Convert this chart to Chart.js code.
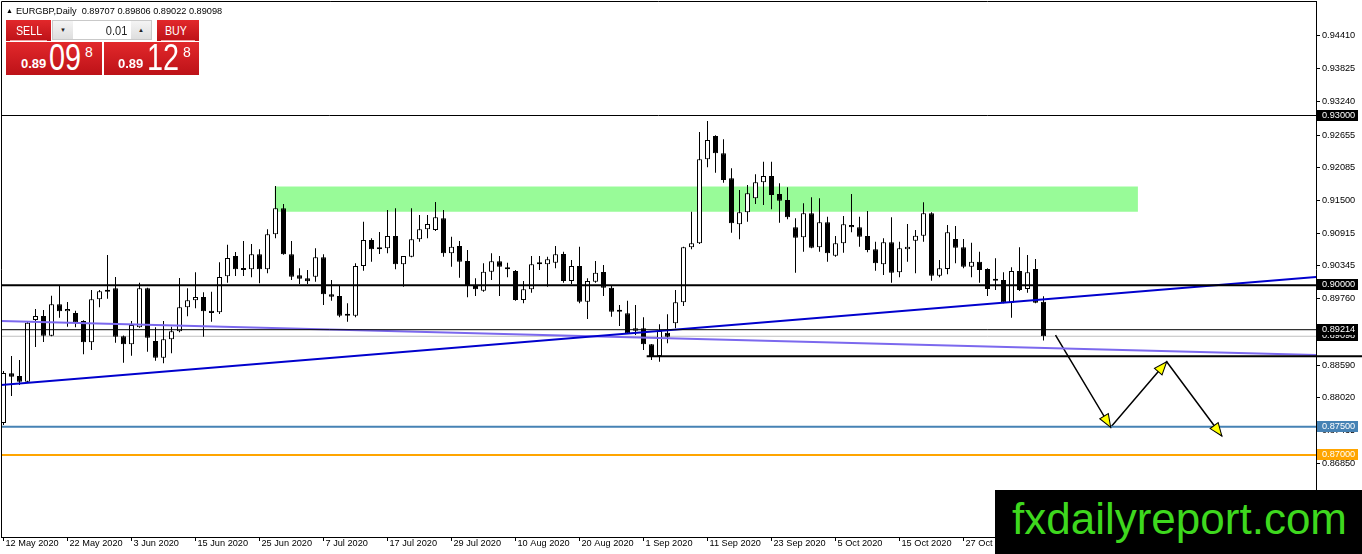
<!DOCTYPE html>
<html>
<head>
<meta charset="utf-8">
<title>EURGBP Daily</title>
<script src="https://cdn.jsdelivr.net/npm/chart.js@4.4.0/dist/chart.umd.min.js"></script>
<style>
html, body { margin: 0; padding: 0; background: #fff; overflow: hidden; }
#wrap { position: relative; width: 1362px; height: 554px; font-family: "Liberation Sans", Arial, sans-serif; }
#c { position: absolute; left: 0; top: 0; display: block; }
.hdr { position: absolute; left: 6px; top: 5px; font-size: 9.2px; color: #000; white-space: pre; line-height: 11px; }
.hdr .tri { font-size: 7px; margin-right: 3px; vertical-align: 1px; }
.red { position: absolute; background: linear-gradient(#e2282b, #bd1218); color: #fff; overflow: hidden; }
.btn { top: 20px; height: 21px; }
.btn .sep { position: absolute; left: 4px; right: 4px; bottom: 0; height: 1px; background: #f2a0a0; }
.btn .t { position: absolute; top: 4px; font-size: 13px; line-height: 13px; transform: scaleX(0.82); transform-origin: left top; }
.spin { position: absolute; left: 52px; top: 20px; width: 98px; height: 18px; background: #fff; border: 1px solid #c9c9c9; }
.spin .b { position: absolute; top: 0; width: 20px; height: 18px; background: linear-gradient(#f4f4f4, #dedede); font-size: 6px; line-height: 18px; text-align: center; color: #222; }
.spin .v { position: absolute; right: 24px; top: 3px; font-size: 13px; line-height: 13px; color: #222; transform: scaleX(0.85); transform-origin: right top; }
.px { top: 42px; height: 33px; }
.px span { position: absolute; white-space: pre; }
.px .s { top: 15px; font-size: 13px; line-height: 13px; font-weight: bold; }
.px .big { top: -2px; font-size: 36px; line-height: 36px; transform: scaleX(0.8); transform-origin: left top; }
.px .sup { top: 3px; font-size: 14px; line-height: 14px; }
.brand { position: absolute; left: 995px; top: 490px; width: 367px; height: 64px; background: #000; }
.brand span { position: absolute; left: 17px; top: 7px; font-size: 44px; line-height: 44px; color: #3ed81e; white-space: pre; }
</style>
</head>
<body>
<div id="wrap">
  <canvas id="c" width="1362" height="554"></canvas>
  <div class="hdr" id="hdr"></div>
  <div class="red btn" style="left:6px;width:45px"><span class="t" style="left:10px">SELL</span><div class="sep"></div></div>
  <div class="spin"><div class="b" style="left:0">&#9660;</div><span class="v">0.01</span><div class="b" style="right:0">&#9650;</div></div>
  <div class="red btn" style="left:157px;width:42px"><span class="t" style="left:8px">BUY</span><div class="sep"></div></div>
  <div class="red px" style="left:6px;width:96px"><span class="s" style="left:15px">0.89</span><span class="big" style="left:43px">09</span><span class="sup" style="left:79px">8</span></div>
  <div class="red px" style="left:104px;width:95px"><span class="s" style="left:14px">0.89</span><span class="big" style="left:43px">12</span><span class="sup" style="left:79px">8</span></div>
  <div class="brand"><span>fxdailyreport.com</span></div>
</div>
<script>
// EURGBP daily, 12 May 2020 .. 10 Nov 2020, one value per trading day
var opens = [0.87565,0.88443,0.88396,0.88295,0.89385,0.89456,0.89108,0.89663,0.89539,0.89509,
  0.89368,0.88991,0.89751,0.89916,0.89946,0.89097,0.88956,0.89256,0.89946,0.89014,
  0.88719,0.89044,0.89186,0.89610,0.89734,0.89792,0.89550,0.89521,0.90158,0.90517,
  0.90281,0.90281,0.90547,0.90281,0.90900,0.91360,0.90547,0.90175,0.90122,0.90151,
  0.90494,0.89840,0.89810,0.89491,0.89461,0.90340,0.90799,0.90635,0.90653,0.90870,
  0.90370,0.90504,0.90812,0.90988,0.90976,0.91183,0.90564,0.90693,0.90428,0.89986,
  0.89903,0.90239,0.90423,0.90317,0.90251,0.89739,0.89928,0.90370,0.90370,0.90398,
  0.90552,0.90075,0.90340,0.89709,0.90062,0.90234,0.89956,0.89532,0.89504,0.89196,
  0.89239,0.88956,0.88749,0.89161,0.89327,0.89698,0.90670,0.90741,0.92226,0.92637,
  0.92332,0.91890,0.91077,0.91289,0.91536,0.91819,0.91930,0.91612,0.91506,0.91024,
  0.90847,0.91271,0.90670,0.91112,0.90522,0.90741,0.91064,0.91024,0.90870,0.90635,
  0.90370,0.90759,0.90228,0.90635,0.90787,0.90875,0.91271,0.90168,0.90287,0.90817,
  0.90670,0.90327,0.90416,0.90287,0.90080,0.90092,0.89691,0.90251,0.89933,0.90287,
  0.89707];
var highs = [0.88484,0.88749,0.88678,0.89368,0.89580,0.89562,0.89815,0.90004,0.89704,0.89550,
  0.89380,0.89916,0.89916,0.90534,0.90145,0.89110,0.89368,0.90045,0.89955,0.89256,
  0.89368,0.89267,0.90128,0.89946,0.90228,0.89875,0.89886,0.90405,0.90716,0.90587,
  0.90782,0.90729,0.90635,0.90988,0.91754,0.91436,0.90782,0.90299,0.90269,0.90653,
  0.90547,0.90092,0.90004,0.89681,0.90387,0.91123,0.90829,0.90941,0.91330,0.91360,
  0.90517,0.91360,0.91241,0.91241,0.91471,0.91330,0.90858,0.90782,0.90622,0.90122,
  0.90387,0.90564,0.90517,0.90398,0.90269,0.90075,0.90517,0.90517,0.90504,0.90693,
  0.90592,0.90446,0.90681,0.90122,0.90428,0.90357,0.89986,0.89650,0.89726,0.89650,
  0.89433,0.88960,0.89309,0.89486,0.89916,0.90680,0.91299,0.92708,0.92902,0.92650,
  0.92579,0.92066,0.91683,0.91771,0.91960,0.92183,0.92183,0.91801,0.91731,0.91183,
  0.91448,0.91554,0.91536,0.91211,0.90870,0.91223,0.91612,0.91211,0.91312,0.90769,
  0.90829,0.91200,0.90769,0.91082,0.90976,0.91466,0.91289,0.90446,0.91064,0.91047,
  0.90817,0.90752,0.90592,0.90299,0.90476,0.90228,0.90317,0.90670,0.90534,0.90463,
  0.89806];
var lows = [0.87530,0.88042,0.88237,0.88272,0.88908,0.88997,0.89100,0.89426,0.89267,0.89256,
  0.88779,0.88855,0.89610,0.89762,0.88984,0.88631,0.88754,0.89250,0.88825,0.88666,
  0.88620,0.88797,0.89168,0.89451,0.89592,0.89090,0.89355,0.89491,0.90045,0.90163,
  0.90163,0.90140,0.90034,0.90211,0.90829,0.90540,0.90092,0.90022,0.90022,0.90062,
  0.89650,0.89726,0.89433,0.89355,0.89433,0.90257,0.90416,0.90552,0.90564,0.90281,
  0.89974,0.90494,0.90769,0.90829,0.90960,0.90504,0.90327,0.90133,0.89786,0.89810,
  0.89886,0.90092,0.89810,0.90140,0.89726,0.89681,0.89868,0.90269,0.89974,0.90299,
  0.90045,0.90022,0.89681,0.89403,0.90045,0.89810,0.89444,0.89279,0.89138,0.89120,
  0.88855,0.88678,0.88648,0.88974,0.89239,0.89633,0.90635,0.90730,0.92084,0.91989,
  0.91812,0.90928,0.90812,0.91123,0.91436,0.91418,0.91342,0.91105,0.91165,0.90221,
  0.90592,0.90653,0.90592,0.90416,0.90504,0.90575,0.90935,0.90681,0.90582,0.90257,
  0.90181,0.90045,0.90140,0.90416,0.90211,0.90769,0.90080,0.90140,0.90193,0.90387,
  0.90299,0.90140,0.90045,0.89810,0.89916,0.89681,0.89426,0.89898,0.89868,0.89681,
  0.89022];
var closes = [0.88449,0.88383,0.88295,0.89338,0.89456,0.89108,0.89663,0.89539,0.89580,0.89338,
  0.88991,0.89751,0.89893,0.89886,0.89090,0.88956,0.89297,0.89946,0.89073,0.88719,
  0.89044,0.89186,0.89610,0.89734,0.89792,0.89539,0.89509,0.90145,0.90481,0.90281,
  0.90269,0.90547,0.90281,0.90900,0.91360,0.90547,0.90151,0.90115,0.90069,0.90494,
  0.89840,0.89797,0.89461,0.89461,0.90340,0.90799,0.90635,0.90640,0.90870,0.90370,
  0.90517,0.90812,0.90988,0.91082,0.91200,0.90564,0.90681,0.90416,0.89986,0.89928,
  0.90239,0.90423,0.90327,0.90281,0.89739,0.89928,0.90370,0.90378,0.90458,0.90547,
  0.90075,0.90340,0.89709,0.90075,0.90221,0.89956,0.89532,0.89540,0.89150,0.89239,
  0.88956,0.88749,0.89191,0.89090,0.89698,0.90670,0.90741,0.92226,0.92567,0.92332,
  0.91860,0.91094,0.91289,0.91625,0.91819,0.91930,0.91595,0.91494,0.91200,0.90840,
  0.91271,0.90663,0.91112,0.90564,0.90741,0.91077,0.91024,0.90858,0.90622,0.90387,
  0.90759,0.90221,0.90653,0.90681,0.90875,0.91271,0.90168,0.90299,0.90935,0.90663,
  0.90327,0.90416,0.90269,0.89933,0.90090,0.89691,0.90251,0.89916,0.90228,0.89691,
  0.89098];

// bottom axis: bar index -> date text
var tickIdx = [0, 8, 16, 24, 32, 40, 48, 56, 64, 72, 80, 88, 96, 104, 112, 120, 128];
var tickLabels = ['12 May 2020', '22 May 2020', '3 Jun 2020', '15 Jun 2020', '25 Jun 2020', '7 Jul 2020',
  '17 Jul 2020', '29 Jul 2020', '10 Aug 2020', '20 Aug 2020', '1 Sep 2020', '11 Sep 2020',
  '23 Sep 2020', '5 Oct 2020', '15 Oct 2020', '27 Oct 2020', '6 Nov 2020'];
// right axis price ticks
var priceTicks = [0.94410, 0.93825, 0.93240, 0.92655, 0.92085, 0.91500, 0.90915,
  0.90345, 0.89760, 0.89175, 0.88590, 0.88020, 0.87435, 0.86850];

// drawn objects (bar index, price)
var resistTop = 0.93000, pivot = 0.90000, lastLow = 0.89214, bidPrice = 0.89098;
var target1 = 0.87500, target2 = 0.87000;
var supportPrice = 0.88745, supportFrom = 80.4;
var blueTrendX = [-0.4, 164.1], blueTrendY = [0.88237, 0.90145];
var purpleTrendX = [-0.4, 164.1], purpleTrendY = [0.89368, 0.88767];
var zoneX = [33.9, 141.8], zoneY = [0.91299, 0.91745];
var arrowX = [131.5, 138.4, 145.4, 152.3];
var arrowY = [0.89120, 0.87489, 0.88648, 0.87335];

var n = opens.length;
document.getElementById('hdr').innerHTML = '<span class="tri">&#9650;</span>EURGBP,Daily  ' +
  [opens[n-1], highs[n-1], lows[n-1], closes[n-1]].map(function(v){ return v.toFixed(5); }).join(' ');

var bodies = [], wicks = [], bodyFill = [];
for (var i = 0; i < n; i++) {
  bodies.push({x: i, y: [opens[i], closes[i]]});
  wicks.push({x: i, y: [lows[i], highs[i]]});
  bodyFill.push(closes[i] < opens[i] ? '#000000' : '#ffffff');
}

function hline(price, from, to, color, width, order) {
  return {type: 'line', data: [{x: from, y: price}, {x: to, y: price}], borderColor: color,
    borderWidth: width, pointRadius: 0, tension: 0, order: order};
}
function seg(xs, ys, color, width) {
  return {type: 'line', data: xs.map(function(x, k){ return {x: x, y: ys[k]}; }), borderColor: color,
    borderWidth: width, pointRadius: 0, tension: 0, order: 0};
}

var frame = {
  id: 'frame',
  beforeDatasetsDraw: function(chart) {
    var ctx = chart.ctx, xs = chart.scales.x, ys = chart.scales.y;
    var x0 = xs.getPixelForValue(zoneX[0]), x1 = xs.getPixelForValue(zoneX[1]);
    var y0 = ys.getPixelForValue(zoneY[1]), y1 = ys.getPixelForValue(zoneY[0]);
    ctx.save();
    ctx.fillStyle = '#98fb98';
    ctx.fillRect(x0, y0, x1 - x0, y1 - y0);
    ctx.restore();
  },
  afterDatasetsDraw: function(chart) {
    var ctx = chart.ctx, xs = chart.scales.x, ys = chart.scales.y;
    ctx.save();
    for (var k = 1; k < arrowX.length; k++) {
      var ax = xs.getPixelForValue(arrowX[k-1]), ay = ys.getPixelForValue(arrowY[k-1]);
      var bx = xs.getPixelForValue(arrowX[k]), by = ys.getPixelForValue(arrowY[k]);
      var a = Math.atan2(by - ay, bx - ax);
      ctx.save();
      ctx.translate(bx, by);
      ctx.rotate(a);
      ctx.beginPath();
      ctx.moveTo(0, 0); ctx.lineTo(-13, -5); ctx.lineTo(-13, 5); ctx.closePath();
      ctx.fillStyle = '#ffff00'; ctx.fill();
      ctx.strokeStyle = '#000'; ctx.lineWidth = 1; ctx.stroke();
      ctx.restore();
    }
    ctx.restore();
  },
  afterDraw: function(chart) {
    var ctx = chart.ctx, a = chart.chartArea, ys = chart.scales.y;
    ctx.save();
    ctx.strokeStyle = '#000'; ctx.lineWidth = 1;
    ctx.beginPath();
    ctx.moveTo(a.left + 0.5, a.bottom); ctx.lineTo(a.left + 0.5, a.top + 0.5); ctx.lineTo(a.right, a.top + 0.5);
    ctx.stroke();
    ctx.font = '9.2px "Liberation Sans", Arial, sans-serif';
    ctx.textBaseline = 'middle'; ctx.textAlign = 'left';
    var tags = [[resistTop, '#000000'], [pivot, '#000000'], [bidPrice, '#000000'], [lastLow, '#000000'],
      [target1, '#4682b4'], [target2, '#ffa500']];
    tags.forEach(function(t) {
      var y = ys.getPixelForValue(t[0]);
      ctx.fillStyle = t[1];
      ctx.fillRect(a.right + 1, Math.round(y) - 6, 41, 11);
      ctx.fillStyle = '#fff';
      ctx.fillText(t[0].toFixed(5), a.right + 6, Math.round(y) - 0.5);
    });
    ctx.restore();
  }
};

Chart.defaults.font.family = '"Liberation Sans", Arial, sans-serif';
Chart.defaults.font.size = 9.2;
Chart.defaults.color = '#000';

new Chart(document.getElementById('c'), {
  type: 'bar',
  data: {
    datasets: [
      hline(resistTop, -1, 165, '#000000', 1, 0),
      hline(pivot, -1, 165, '#000000', 2, 0),
      hline(lastLow, -1, 165, '#000000', 1, 0),
      hline(bidPrice, -1, 165, '#c0c0c0', 1, 3),
      hline(target1, -1, 165, '#4682b4', 2, 0),
      hline(target2, -1, 165, '#ffa500', 2, 0),
      Object.assign(hline(supportPrice, supportFrom, 170, '#000000', 2, 0), {clip: {left: 0, top: 0, right: 46, bottom: 0}}),
      seg(blueTrendX, blueTrendY, '#0000cd', 2),
      seg(purpleTrendX, purpleTrendY, '#7b68ee', 2),
      seg(arrowX, arrowY, '#000000', 1.5),
      {type: 'bar', data: bodies, backgroundColor: bodyFill, borderColor: '#000', borderWidth: 1,
        borderSkipped: false, barThickness: 5, minBarLength: 2, grouped: false, inflateAmount: 0, order: 1},
      {type: 'bar', data: wicks, backgroundColor: '#000', borderWidth: 0, barThickness: 1,
        grouped: false, inflateAmount: 0, order: 2}
    ]
  },
  options: {
    responsive: false,
    animation: false,
    events: [],
    layout: {padding: {left: 1, top: 1, right: 0, bottom: 0}},
    plugins: {legend: {display: false}, tooltip: {enabled: false}},
    scales: {
      x: {
        type: 'linear', position: 'bottom', min: -0.3125, max: 164.0625, offset: false,
        grid: {display: true, offset: false, drawOnChartArea: false, drawTicks: true, tickLength: 4, color: '#000'},
        border: {display: true, color: '#000', width: 1},
        ticks: {autoSkip: false, maxRotation: 0, align: 'start', labelOffset: 2, padding: -3,
          callback: function(v) { var j = tickIdx.indexOf(v); return j < 0 ? '' : tickLabels[j]; }},
        afterBuildTicks: function(s) { s.ticks = tickIdx.map(function(v){ return {value: v}; }); },
        afterFit: function(s) { s.height = 17; s.paddingLeft = 0; s.paddingRight = 0; }
      },
      y: {
        type: 'linear', position: 'right', min: 0.855504, max: 0.950237,
        grid: {display: true, drawOnChartArea: false, drawTicks: true, tickLength: 4, color: '#000'},
        border: {display: true, color: '#000', width: 1},
        ticks: {padding: 2, callback: function(v) { return Number(v).toFixed(5); }},
        afterBuildTicks: function(s) { s.ticks = priceTicks.map(function(v){ return {value: v}; }); },
        afterFit: function(s) { s.width = 46; s.paddingTop = 0; s.paddingBottom = 0; }
      }
    }
  },
  plugins: [frame]
});
</script>
</body>
</html>
